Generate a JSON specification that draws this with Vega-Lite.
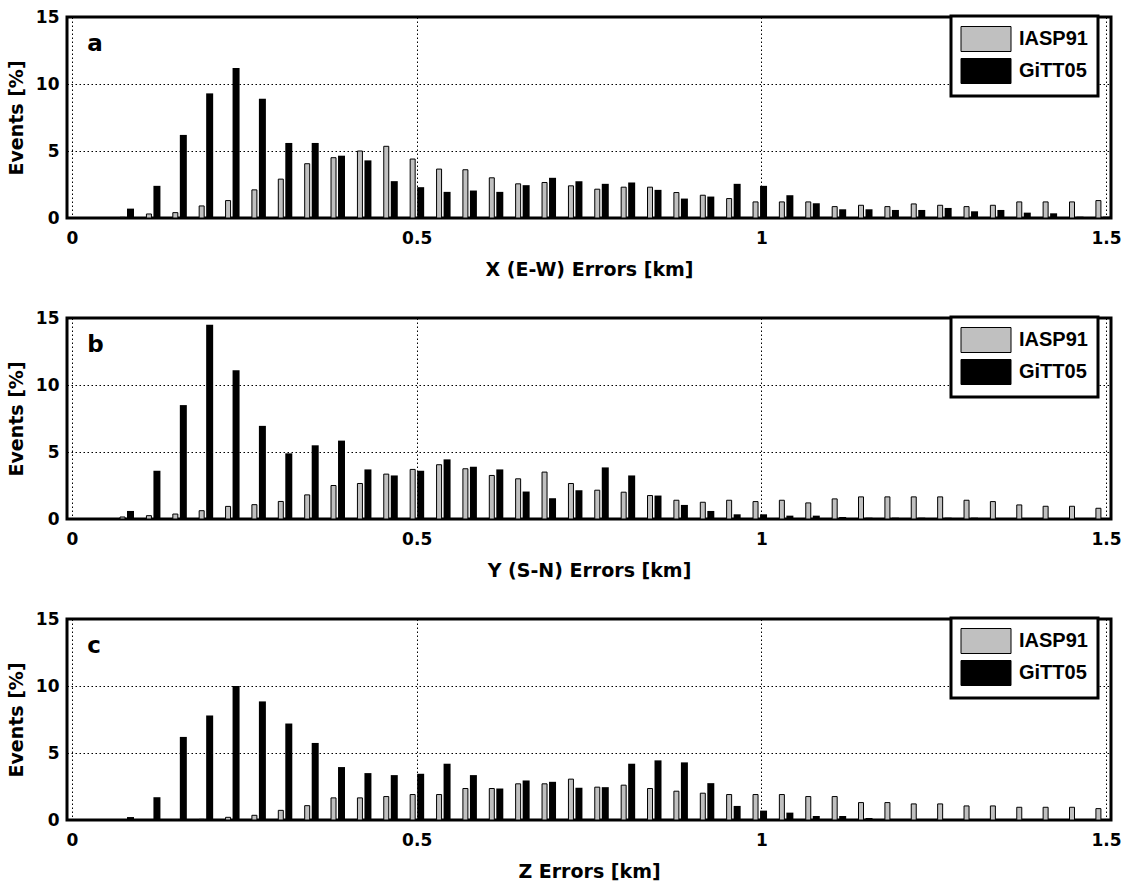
{
"$schema": "https://vega.github.io/schema/vega-lite/v6.json",
"background": "white",
"padding": {"left": 5, "top": 6, "right": 5, "bottom": 5},
"data": {"values": [
{"p":"a","x":0.0791,"IASP91":0.05,"GiTT05":0.7},
{"p":"a","x":0.1174,"IASP91":0.3,"GiTT05":2.4},
{"p":"a","x":0.1557,"IASP91":0.4,"GiTT05":6.2},
{"p":"a","x":0.1939,"IASP91":0.9,"GiTT05":9.3},
{"p":"a","x":0.2322,"IASP91":1.3,"GiTT05":11.2},
{"p":"a","x":0.2704,"IASP91":2.1,"GiTT05":8.9},
{"p":"a","x":0.3087,"IASP91":2.9,"GiTT05":5.6},
{"p":"a","x":0.3470,"IASP91":4.05,"GiTT05":5.6},
{"p":"a","x":0.3852,"IASP91":4.5,"GiTT05":4.65},
{"p":"a","x":0.4235,"IASP91":5.0,"GiTT05":4.3},
{"p":"a","x":0.4617,"IASP91":5.35,"GiTT05":2.75},
{"p":"a","x":0.5,"IASP91":4.4,"GiTT05":2.3},
{"p":"a","x":0.5383,"IASP91":3.65,"GiTT05":1.95},
{"p":"a","x":0.5765,"IASP91":3.6,"GiTT05":2.05},
{"p":"a","x":0.6148,"IASP91":3.0,"GiTT05":1.95},
{"p":"a","x":0.6530,"IASP91":2.55,"GiTT05":2.45},
{"p":"a","x":0.6913,"IASP91":2.65,"GiTT05":3.0},
{"p":"a","x":0.7296,"IASP91":2.4,"GiTT05":2.75},
{"p":"a","x":0.7678,"IASP91":2.15,"GiTT05":2.55},
{"p":"a","x":0.8061,"IASP91":2.3,"GiTT05":2.65},
{"p":"a","x":0.8443,"IASP91":2.3,"GiTT05":2.1},
{"p":"a","x":0.8826,"IASP91":1.9,"GiTT05":1.45},
{"p":"a","x":0.9209,"IASP91":1.7,"GiTT05":1.6},
{"p":"a","x":0.9591,"IASP91":1.45,"GiTT05":2.55},
{"p":"a","x":0.9974,"IASP91":1.2,"GiTT05":2.4},
{"p":"a","x":1.0356,"IASP91":1.2,"GiTT05":1.7},
{"p":"a","x":1.0739,"IASP91":1.2,"GiTT05":1.1},
{"p":"a","x":1.1122,"IASP91":0.85,"GiTT05":0.65},
{"p":"a","x":1.1504,"IASP91":0.95,"GiTT05":0.65},
{"p":"a","x":1.1887,"IASP91":0.85,"GiTT05":0.6},
{"p":"a","x":1.2269,"IASP91":1.05,"GiTT05":0.6},
{"p":"a","x":1.2652,"IASP91":0.95,"GiTT05":0.75},
{"p":"a","x":1.3035,"IASP91":0.85,"GiTT05":0.5},
{"p":"a","x":1.3417,"IASP91":0.95,"GiTT05":0.6},
{"p":"a","x":1.3800,"IASP91":1.2,"GiTT05":0.4},
{"p":"a","x":1.4182,"IASP91":1.2,"GiTT05":0.35},
{"p":"a","x":1.4565,"IASP91":1.2,"GiTT05":0.1},
{"p":"a","x":1.4948,"IASP91":1.3,"GiTT05":0.1},
{"p":"b","x":0.0791,"IASP91":0.15,"GiTT05":0.6},
{"p":"b","x":0.1174,"IASP91":0.25,"GiTT05":3.6},
{"p":"b","x":0.1557,"IASP91":0.37,"GiTT05":8.5},
{"p":"b","x":0.1939,"IASP91":0.62,"GiTT05":14.5},
{"p":"b","x":0.2322,"IASP91":0.94,"GiTT05":11.1},
{"p":"b","x":0.2704,"IASP91":1.07,"GiTT05":6.95},
{"p":"b","x":0.3087,"IASP91":1.31,"GiTT05":4.9},
{"p":"b","x":0.3470,"IASP91":1.8,"GiTT05":5.5},
{"p":"b","x":0.3852,"IASP91":2.5,"GiTT05":5.85},
{"p":"b","x":0.4235,"IASP91":2.65,"GiTT05":3.7},
{"p":"b","x":0.4617,"IASP91":3.35,"GiTT05":3.25},
{"p":"b","x":0.5,"IASP91":3.7,"GiTT05":3.6},
{"p":"b","x":0.5383,"IASP91":4.05,"GiTT05":4.45},
{"p":"b","x":0.5765,"IASP91":3.75,"GiTT05":3.9},
{"p":"b","x":0.6148,"IASP91":3.25,"GiTT05":3.7},
{"p":"b","x":0.6530,"IASP91":3.0,"GiTT05":2.05},
{"p":"b","x":0.6913,"IASP91":3.5,"GiTT05":1.55},
{"p":"b","x":0.7296,"IASP91":2.65,"GiTT05":2.15},
{"p":"b","x":0.7678,"IASP91":2.15,"GiTT05":3.85},
{"p":"b","x":0.8061,"IASP91":2.0,"GiTT05":3.25},
{"p":"b","x":0.8443,"IASP91":1.75,"GiTT05":1.75},
{"p":"b","x":0.8826,"IASP91":1.4,"GiTT05":1.05},
{"p":"b","x":0.9209,"IASP91":1.25,"GiTT05":0.6},
{"p":"b","x":0.9591,"IASP91":1.4,"GiTT05":0.35},
{"p":"b","x":0.9974,"IASP91":1.3,"GiTT05":0.35},
{"p":"b","x":1.0356,"IASP91":1.4,"GiTT05":0.25},
{"p":"b","x":1.0739,"IASP91":1.2,"GiTT05":0.25},
{"p":"b","x":1.1122,"IASP91":1.5,"GiTT05":0.15},
{"p":"b","x":1.1504,"IASP91":1.65,"GiTT05":0.1},
{"p":"b","x":1.1887,"IASP91":1.65,"GiTT05":0.1},
{"p":"b","x":1.2269,"IASP91":1.65,"GiTT05":0.1},
{"p":"b","x":1.2652,"IASP91":1.65,"GiTT05":0.1},
{"p":"b","x":1.3035,"IASP91":1.4,"GiTT05":0.1},
{"p":"b","x":1.3417,"IASP91":1.3,"GiTT05":0.05},
{"p":"b","x":1.3800,"IASP91":1.05,"GiTT05":0.05},
{"p":"b","x":1.4182,"IASP91":0.95,"GiTT05":0.05},
{"p":"b","x":1.4565,"IASP91":0.95,"GiTT05":0.05},
{"p":"b","x":1.4948,"IASP91":0.8,"GiTT05":0.05},
{"p":"c","x":0.0791,"IASP91":0,"GiTT05":0.22},
{"p":"c","x":0.1174,"IASP91":0,"GiTT05":1.7},
{"p":"c","x":0.1557,"IASP91":0.02,"GiTT05":6.2},
{"p":"c","x":0.1939,"IASP91":0.05,"GiTT05":7.8},
{"p":"c","x":0.2322,"IASP91":0.2,"GiTT05":10.0},
{"p":"c","x":0.2704,"IASP91":0.35,"GiTT05":8.85},
{"p":"c","x":0.3087,"IASP91":0.72,"GiTT05":7.2},
{"p":"c","x":0.3470,"IASP91":1.07,"GiTT05":5.75},
{"p":"c","x":0.3852,"IASP91":1.65,"GiTT05":3.95},
{"p":"c","x":0.4235,"IASP91":1.65,"GiTT05":3.5},
{"p":"c","x":0.4617,"IASP91":1.75,"GiTT05":3.35},
{"p":"c","x":0.5,"IASP91":1.9,"GiTT05":3.45},
{"p":"c","x":0.5383,"IASP91":1.9,"GiTT05":4.2},
{"p":"c","x":0.5765,"IASP91":2.35,"GiTT05":3.35},
{"p":"c","x":0.6148,"IASP91":2.35,"GiTT05":2.35},
{"p":"c","x":0.6530,"IASP91":2.7,"GiTT05":2.95},
{"p":"c","x":0.6913,"IASP91":2.7,"GiTT05":2.85},
{"p":"c","x":0.7296,"IASP91":3.05,"GiTT05":2.4},
{"p":"c","x":0.7678,"IASP91":2.45,"GiTT05":2.45},
{"p":"c","x":0.8061,"IASP91":2.6,"GiTT05":4.2},
{"p":"c","x":0.8443,"IASP91":2.35,"GiTT05":4.45},
{"p":"c","x":0.8826,"IASP91":2.15,"GiTT05":4.3},
{"p":"c","x":0.9209,"IASP91":2.0,"GiTT05":2.75},
{"p":"c","x":0.9591,"IASP91":1.9,"GiTT05":1.05},
{"p":"c","x":0.9974,"IASP91":1.9,"GiTT05":0.7},
{"p":"c","x":1.0356,"IASP91":1.9,"GiTT05":0.55},
{"p":"c","x":1.0739,"IASP91":1.75,"GiTT05":0.3},
{"p":"c","x":1.1122,"IASP91":1.75,"GiTT05":0.3},
{"p":"c","x":1.1504,"IASP91":1.3,"GiTT05":0.15},
{"p":"c","x":1.1887,"IASP91":1.3,"GiTT05":0.05},
{"p":"c","x":1.2269,"IASP91":1.2,"GiTT05":0.02},
{"p":"c","x":1.2652,"IASP91":1.2,"GiTT05":0.02},
{"p":"c","x":1.3035,"IASP91":1.05,"GiTT05":0},
{"p":"c","x":1.3417,"IASP91":1.05,"GiTT05":0},
{"p":"c","x":1.3800,"IASP91":0.95,"GiTT05":0},
{"p":"c","x":1.4182,"IASP91":0.95,"GiTT05":0},
{"p":"c","x":1.4565,"IASP91":0.95,"GiTT05":0},
{"p":"c","x":1.4948,"IASP91":0.85,"GiTT05":0}
]},
"spacing": 26,
"resolve": {"scale": {"color": "independent"}, "legend": {"color": "independent"}},
"vconcat": [
{
 "width": 1044, "height": 201,
 "layer": [
  {"transform": [{"filter": "datum.p === 'a'"}, {"fold": ["IASP91", "GiTT05"], "as": ["model", "value"]}, {"filter": "datum.model === 'IASP91'"}],
   "mark": {"type": "bar", "width": 5, "xOffset": -4, "stroke": "black", "strokeWidth": 1},
   "encoding": {
    "x": {"field": "x", "type": "quantitative", "scale": {"domain": [0, 1.5], "nice": false, "zero": false}, "axis": {"title": "X (E-W) Errors [km]", "values": [0, 0.5, 1, 1.5], "format": "~g"}},
    "y": {"field": "value", "type": "quantitative", "scale": {"domain": [0, 15], "nice": false}, "axis": {"title": "Events [%]", "values": [0, 5, 10, 15]}},
    "color": {"field": "model", "type": "nominal", "scale": {"domain": ["IASP91", "GiTT05"], "range": ["#c0c0c0", "#000000"]}}
   }},
  {"transform": [{"filter": "datum.p === 'a'"}, {"fold": ["IASP91", "GiTT05"], "as": ["model", "value"]}, {"filter": "datum.model === 'GiTT05'"}],
   "mark": {"type": "bar", "width": 7, "xOffset": 4},
   "encoding": {
    "x": {"field": "x", "type": "quantitative"},
    "y": {"field": "value", "type": "quantitative"},
    "color": {"field": "model", "type": "nominal", "scale": {"domain": ["IASP91", "GiTT05"], "range": ["#c0c0c0", "#000000"]}}
   }},
  {"data": {"values": [{"t": "a"}]},
   "mark": {"type": "text", "font": "DejaVu Sans", "fontWeight": "bold", "fontSize": 23, "align": "left", "baseline": "alphabetic", "color": "black"},
   "encoding": {"x": {"datum": 0.022}, "y": {"datum": 12.45}, "text": {"field": "t"}}}
 ]
},
{
 "width": 1044, "height": 201,
 "layer": [
  {"transform": [{"filter": "datum.p === 'b'"}, {"fold": ["IASP91", "GiTT05"], "as": ["model", "value"]}, {"filter": "datum.model === 'IASP91'"}],
   "mark": {"type": "bar", "width": 5, "xOffset": -4, "stroke": "black", "strokeWidth": 1},
   "encoding": {
    "x": {"field": "x", "type": "quantitative", "scale": {"domain": [0, 1.5], "nice": false, "zero": false}, "axis": {"title": "Y (S-N) Errors [km]", "values": [0, 0.5, 1, 1.5], "format": "~g"}},
    "y": {"field": "value", "type": "quantitative", "scale": {"domain": [0, 15], "nice": false}, "axis": {"title": "Events [%]", "values": [0, 5, 10, 15]}},
    "color": {"field": "model", "type": "nominal", "scale": {"domain": ["IASP91", "GiTT05"], "range": ["#c0c0c0", "#000000"]}}
   }},
  {"transform": [{"filter": "datum.p === 'b'"}, {"fold": ["IASP91", "GiTT05"], "as": ["model", "value"]}, {"filter": "datum.model === 'GiTT05'"}],
   "mark": {"type": "bar", "width": 7, "xOffset": 4},
   "encoding": {
    "x": {"field": "x", "type": "quantitative"},
    "y": {"field": "value", "type": "quantitative"},
    "color": {"field": "model", "type": "nominal", "scale": {"domain": ["IASP91", "GiTT05"], "range": ["#c0c0c0", "#000000"]}}
   }},
  {"data": {"values": [{"t": "b"}]},
   "mark": {"type": "text", "font": "DejaVu Sans", "fontWeight": "bold", "fontSize": 23, "align": "left", "baseline": "alphabetic", "color": "black"},
   "encoding": {"x": {"datum": 0.022}, "y": {"datum": 12.45}, "text": {"field": "t"}}}
 ]
},
{
 "width": 1044, "height": 201,
 "layer": [
  {"transform": [{"filter": "datum.p === 'c'"}, {"fold": ["IASP91", "GiTT05"], "as": ["model", "value"]}, {"filter": "datum.model === 'IASP91'"}],
   "mark": {"type": "bar", "width": 5, "xOffset": -4, "stroke": "black", "strokeWidth": 1},
   "encoding": {
    "x": {"field": "x", "type": "quantitative", "scale": {"domain": [0, 1.5], "nice": false, "zero": false}, "axis": {"title": "Z Errors [km]", "values": [0, 0.5, 1, 1.5], "format": "~g"}},
    "y": {"field": "value", "type": "quantitative", "scale": {"domain": [0, 15], "nice": false}, "axis": {"title": "Events [%]", "values": [0, 5, 10, 15]}},
    "color": {"field": "model", "type": "nominal", "scale": {"domain": ["IASP91", "GiTT05"], "range": ["#c0c0c0", "#000000"]}}
   }},
  {"transform": [{"filter": "datum.p === 'c'"}, {"fold": ["IASP91", "GiTT05"], "as": ["model", "value"]}, {"filter": "datum.model === 'GiTT05'"}],
   "mark": {"type": "bar", "width": 7, "xOffset": 4},
   "encoding": {
    "x": {"field": "x", "type": "quantitative"},
    "y": {"field": "value", "type": "quantitative"},
    "color": {"field": "model", "type": "nominal", "scale": {"domain": ["IASP91", "GiTT05"], "range": ["#c0c0c0", "#000000"]}}
   }},
  {"data": {"values": [{"t": "c"}]},
   "mark": {"type": "text", "font": "DejaVu Sans", "fontWeight": "bold", "fontSize": 23, "align": "left", "baseline": "alphabetic", "color": "black"},
   "encoding": {"x": {"datum": 0.022}, "y": {"datum": 12.45}, "text": {"field": "t"}}}
 ]
}
],
"config": {
 "view": {"stroke": "black", "strokeWidth": 3},
 "axis": {"domain": false, "ticks": false, "grid": true, "gridColor": "black", "gridDash": [1.5, 2.5], "gridWidth": 1, "gridOpacity": 1, "labelFont": "DejaVu Sans", "labelFontWeight": "bold", "labelFontSize": 17, "labelColor": "black", "titleFont": "DejaVu Sans", "titleFontWeight": "bold", "titleFontSize": 19, "titleColor": "black", "labelOverlap": false},
 "axisX": {"labelPadding": 12, "titlePadding": 14, "labelFlush": false},
 "axisY": {"labelPadding": 8, "titlePadding": 9},
 "legend": {"title": null, "orient": "none", "legendX": 884, "legendY": -1, "symbolType": "M-2,-1H2V1H-2Z", "symbolSize": 625, "symbolOffset": 12, "labelOffset": 20, "padding": 10, "rowPadding": 2, "strokeColor": "black", "fillColor": "white", "symbolStrokeColor": "black", "symbolStrokeWidth": 1, "symbolOpacity": 1, "labelFont": "Liberation Sans", "labelFontSize": 20, "labelFontWeight": "bold", "labelColor": "black", "strokeWidth": 3}
}
}
